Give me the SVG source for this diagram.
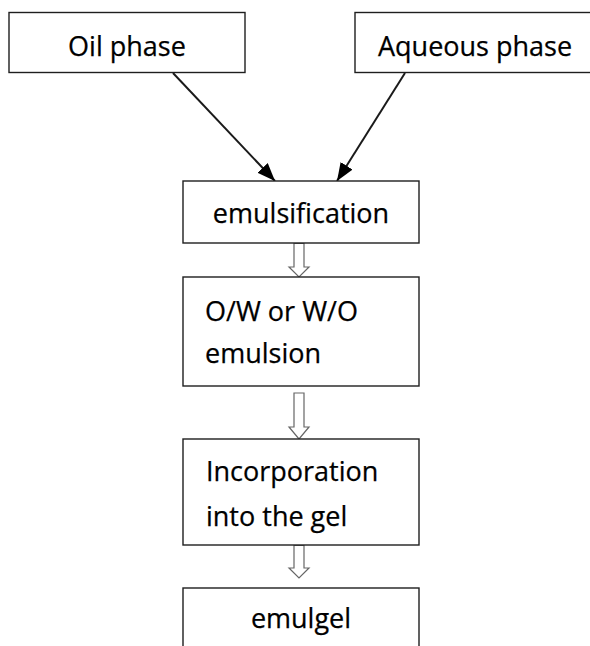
<svg xmlns="http://www.w3.org/2000/svg" width="590" height="646" viewBox="0 0 590 646">
<defs>
<style>
.box{fill:#fff;stroke:#1e1e1e;stroke-width:1.4}
.t{font-family:"Open Sans","Liberation Sans",sans-serif;font-size:27px;fill:#000;stroke:#000;stroke-width:0.25}
.c{text-anchor:middle}
.ln{stroke:#1a1a1a;stroke-width:2;fill:none}
.ha{fill:#fff;stroke:#666;stroke-width:1.2;stroke-linejoin:miter}
</style>
<marker id="ah" viewBox="0 0 18 14" refX="18" refY="7" markerWidth="18" markerHeight="14" markerUnits="userSpaceOnUse" orient="auto">
<path d="M0,0 L18,7 L0,14 Z" fill="#000"/>
</marker>
</defs>
<rect width="590" height="646" fill="#fff"/>
<g id="connectors">
<line class="ln" x1="173" y1="73" x2="275" y2="181" marker-end="url(#ah)"/>
<line class="ln" x1="405" y1="73" x2="337" y2="181" marker-end="url(#ah)"/>
<path class="ha" d="M294,243.5 L304,243.5 L304,267 L309,267 L299,277 L289,267 L294,267 Z"/>
<path class="ha" d="M294,393 L304,393 L304,427 L309,427 L299,439 L289,427 L294,427 Z"/>
<path class="ha" d="M294,545.5 L304,545.5 L304,568 L309,568 L299,578 L289,568 L294,568 Z"/>
</g>
<g id="oil">
<rect class="box" x="9" y="12.5" width="236" height="60"/>
<text class="t c" x="127" y="56">Oil phase</text>
</g>
<g id="aqueous">
<rect class="box" x="355" y="12.5" width="240" height="60"/>
<text class="t" x="378" y="56">Aqueous phase</text>
</g>
<g id="emulsification">
<rect class="box" x="183" y="181" width="236" height="62"/>
<text class="t c" x="301" y="223">emulsification</text>
</g>
<g id="emulsion">
<rect class="box" x="183" y="277" width="236" height="109"/>
<text class="t" x="205" y="321">O/W or W/O</text>
<text class="t" x="205" y="363">emulsion</text>
</g>
<g id="incorporation">
<rect class="box" x="183" y="439" width="236" height="106"/>
<text class="t" x="206" y="481">Incorporation</text>
<text class="t" x="206" y="526">into the gel</text>
</g>
<g id="emulgel">
<rect class="box" x="183" y="588" width="236" height="70"/>
<text class="t c" x="301" y="628">emulgel</text>
</g>
</svg>
